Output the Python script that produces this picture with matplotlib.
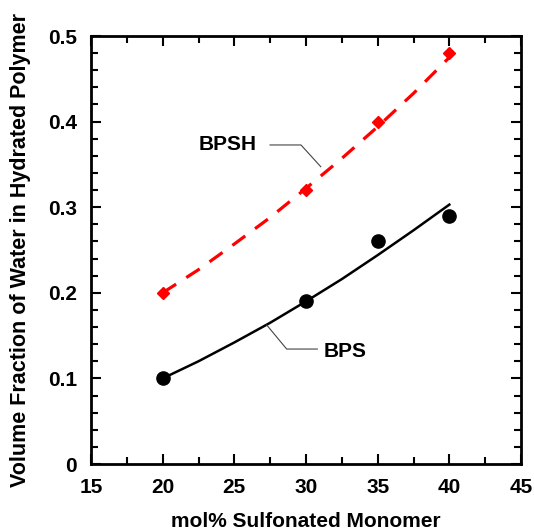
import numpy as np
import matplotlib
matplotlib.use('Agg')
import matplotlib.pyplot as plt
from matplotlib.ticker import MultipleLocator

plt.rcParams['font.family'] = ['Liberation Sans', 'DejaVu Sans']
plt.rcParams['font.weight'] = 'bold'

# measured points
bpsh_x = [20, 30, 35, 40]
bpsh_y = [0.20, 0.32, 0.40, 0.48]
bps_x = [20, 30, 35, 40]
bps_y = [0.10, 0.19, 0.26, 0.29]

# model curves
bpsh_fit_x = [20, 22.5, 25, 27.5, 30, 32.5, 35, 37.5, 40]
bpsh_fit_y = [0.200, 0.227, 0.257, 0.288, 0.322, 0.357, 0.394, 0.433, 0.475]
bps_fit_x = [20, 22.5, 25, 27.5, 30, 32.5, 35, 37.5, 40]
bps_fit_y = [0.100, 0.120, 0.142, 0.165, 0.190, 0.216, 0.244, 0.273, 0.303]

# leader lines for the labels
bpsh_leader_x = [27.49, 29.65, 31.03]
bpsh_leader_y = [0.3727, 0.3727, 0.3473]
bps_leader_x = [30.79, 28.65, 27.26]
bps_leader_y = [0.1343, 0.1343, 0.1624]

fig = plt.figure(figsize=(5.34, 5.31), dpi=100)
ax = fig.add_axes([91/534, 67/531, 430/534, 428/531])

ax.plot(bpsh_fit_x, bpsh_fit_y, color='red', lw=2.3, dashes=(5.0, 3.8))
ax.plot(bpsh_x, bpsh_y, 'D', color='red', ms=6.5, mec='red')
ax.plot(bps_fit_x, bps_fit_y, color='black', lw=1.8)
ax.plot(bps_x, bps_y, 'o', color='black', ms=9.5)

ax.plot(bpsh_leader_x, bpsh_leader_y, color='#444444', lw=0.8)
ax.plot(bps_leader_x, bps_leader_y, color='#444444', lw=0.8)
ax.text(26.56, 0.3727, 'BPSH', ha='right', va='center', fontsize=15, fontweight='bold')
ax.text(31.26, 0.1312, 'BPS', ha='left', va='center', fontsize=15, fontweight='bold')

ax.set_xlim(15, 45)
ax.set_ylim(0, 0.5)
ax.xaxis.set_major_locator(MultipleLocator(5))
ax.xaxis.set_minor_locator(MultipleLocator(2.5))
ax.yaxis.set_major_locator(MultipleLocator(0.1))
ax.yaxis.set_minor_locator(MultipleLocator(0.02))
ax.set_yticks([0, 0.1, 0.2, 0.3, 0.4, 0.5])
ax.set_yticklabels(['0', '0.1', '0.2', '0.3', '0.4', '0.5'])

ax.tick_params(which='both', direction='in', top=True, right=True, width=1.5)
ax.tick_params(which='major', length=7, labelsize=15, pad=10)
ax.tick_params(which='minor', length=5)
for s in ax.spines.values():
    s.set_linewidth(2)

ax.set_xlabel('mol% Sulfonated Monomer', fontsize=15, fontweight='bold', labelpad=11)
ax.set_ylabel('Volume Fraction of Water in Hydrated Polymer', fontsize=15.5, fontweight='bold', labelpad=12)

plt.savefig('out.png', dpi=100)
